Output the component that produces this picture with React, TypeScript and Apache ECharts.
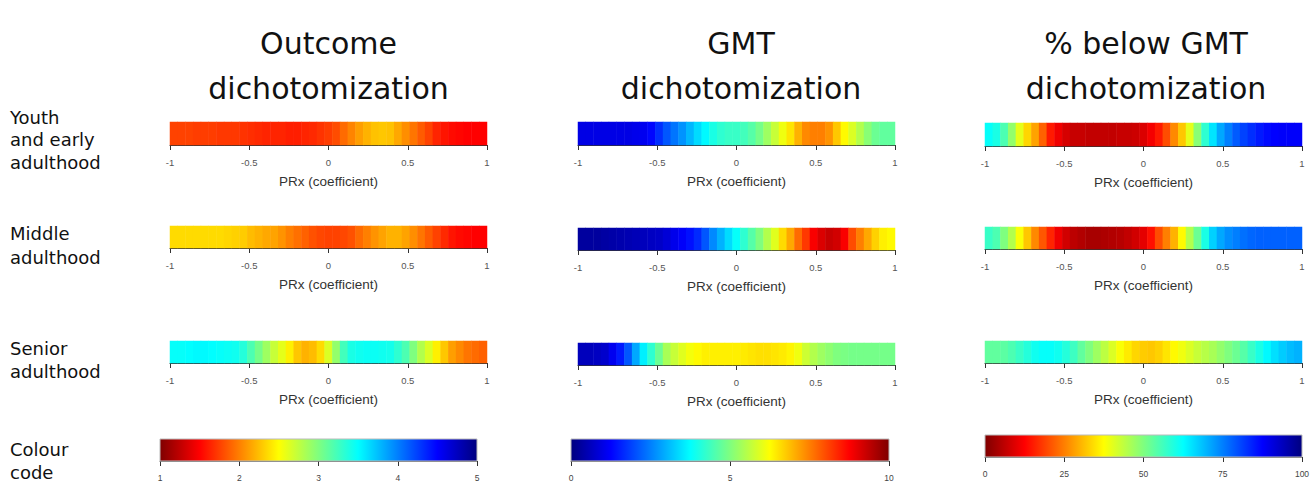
import React, { useEffect, useRef } from "react";
import * as echarts from "echarts";

// ---------- data ----------
const PRX = [-1, -0.95, -0.9, -0.85, -0.8, -0.75, -0.7, -0.65, -0.6, -0.55, -0.5, -0.45, -0.4, -0.35, -0.3, -0.25, -0.2, -0.15, -0.1, -0.05, 0, 0.05, 0.1, 0.15, 0.2, 0.25, 0.3, 0.35, 0.4, 0.45, 0.5, 0.55, 0.6, 0.65, 0.7, 0.75, 0.8, 0.85, 0.9, 0.95, 1];

const COLUMN_TITLES = ["Outcome\ndichotomization", "GMT\ndichotomization", "% below GMT\ndichotomization"];
const ROW_LABELS = ["Youth\nand early\nadulthood", "Middle\nadulthood", "Senior\nadulthood", "Colour\ncode"];
const AXIS_NAME = "PRx (coefficient)";

// Outcome dichotomization (colour code 1..5)
const outcomeYouth = [1.76, 1.76, 1.76, 1.74, 1.74, 1.74, 1.72, 1.72, 1.72, 1.70, 1.68, 1.66, 1.64, 1.64, 1.64, 1.62, 1.62, 1.64, 1.66, 1.70, 1.74, 1.80, 1.92, 2.02, 2.12, 2.20, 2.26, 2.28, 2.26, 2.16, 2.06, 1.96, 1.86, 1.76, 1.64, 1.58, 1.54, 1.52, 1.50, 1.50, 1.50];
const outcomeMiddle = [2.36, 2.36, 2.36, 2.36, 2.36, 2.36, 2.36, 2.34, 2.32, 2.30, 2.24, 2.20, 2.16, 2.14, 2.08, 2.00, 1.94, 1.88, 1.82, 1.78, 1.76, 1.76, 1.78, 1.82, 1.92, 2.00, 2.08, 2.14, 2.20, 2.20, 2.14, 2.06, 1.96, 1.86, 1.76, 1.66, 1.58, 1.54, 1.52, 1.50, 1.50];
const outcomeSenior = [3.48, 3.48, 3.50, 3.52, 3.52, 3.50, 3.48, 3.46, 3.44, 3.36, 3.20, 3.04, 2.88, 2.72, 2.60, 2.44, 2.28, 2.20, 2.24, 2.36, 2.64, 2.92, 3.24, 3.40, 3.44, 3.46, 3.46, 3.44, 3.42, 3.32, 3.20, 3.00, 2.80, 2.64, 2.44, 2.28, 2.12, 2.04, 1.96, 1.92, 1.88];

// GMT dichotomization (colour code 0..10)
const gmtYouth = [1.0, 1.0, 1.0, 1.0, 1.0, 1.0, 1.0, 1.05, 1.1, 1.3, 1.7, 2.1, 2.4, 2.7, 3.05, 3.4, 3.7, 4.0, 4.2, 4.3, 4.3, 4.4, 4.6, 4.9, 5.3, 5.7, 6.1, 6.5, 7.0, 7.4, 7.5, 7.5, 7.3, 6.8, 6.3, 5.9, 5.5, 5.1, 4.8, 4.7, 4.7];
const gmtMiddle = [0.3, 0.3, 0.3, 0.35, 0.4, 0.45, 0.5, 0.55, 0.6, 0.65, 0.7, 0.85, 1.05, 1.2, 1.4, 1.65, 2.1, 2.6, 3.0, 3.4, 3.8, 4.2, 4.6, 5.0, 5.5, 5.95, 6.6, 7.1, 7.7, 8.2, 8.8, 9.1, 9.3, 9.2, 8.8, 8.0, 7.5, 7.1, 6.7, 6.4, 6.3];
const gmtSenior = [0.6, 0.6, 0.65, 0.75, 1.1, 1.5, 2.1, 2.9, 3.6, 4.2, 4.8, 5.4, 5.7, 5.95, 6.15, 6.3, 6.4, 6.4, 6.4, 6.4, 6.4, 6.45, 6.5, 6.55, 6.55, 6.5, 6.45, 6.35, 6.1, 5.75, 5.5, 5.3, 5.15, 5.0, 4.95, 4.9, 4.9, 4.9, 4.9, 4.9, 4.9];

// % below GMT dichotomization (colour code 0..100)
const belowYouth = [62, 60, 55, 48, 40, 33.5, 28.5, 22, 15, 11, 8.5, 7, 7, 6.5, 6.5, 6.5, 6.5, 7, 7, 7.5, 9, 11.5, 15, 20, 26, 32, 40, 49, 58, 65, 71, 75, 78.5, 81, 83, 85, 86.5, 87.5, 88, 88, 88];
const belowMiddle = [57, 55, 50, 45, 38, 32, 26, 21, 16, 11, 8, 6, 5, 4, 4, 4.5, 5, 5.5, 6.5, 8, 10, 14, 20, 25, 30, 37, 45, 52, 60, 67, 71, 73.5, 75, 76.5, 77.5, 78, 78, 78, 78, 78, 78];
const belowSenior = [53, 53, 53.5, 55, 57, 59, 61, 62, 62, 61, 59, 56.5, 53, 50, 47, 44, 41, 38, 35.5, 33.5, 32.5, 32, 33, 35, 37, 39, 41, 43, 44.5, 46, 48, 50, 52, 54, 57, 60, 63, 65.5, 67.5, 69, 70];

// colour code scales
const CODE_MIN = [1, 0, 0];
const CODE_MAX = [5, 10, 100];
const CODE_STEP = [1, 5, 25];

// jet colour map
const JET = ["#00007F", "#0000FF", "#007FFF", "#00FFFF", "#7FFF7F", "#FFFF00", "#FF7F00", "#FF0000", "#7F0000"];
const JET_REVERSED = [...JET].reverse();
const COLUMN_COLORS = [JET_REVERSED, JET, JET_REVERSED];

const ROW_SERIES = [
  [outcomeYouth, gmtYouth, belowYouth],
  [outcomeMiddle, gmtMiddle, belowMiddle],
  [outcomeSenior, gmtSenior, belowSenior],
];

// ---------- layout ----------
const COL_LEFT = [170, 578, 985];
const STRIP_W = 317;
const STRIP_TOP = [
  [122, 122, 123],
  [226, 228, 227],
  [341, 343, 341],
];
const STRIP_H = [23, 22, 22];
const CODE_LEFT = [160, 571, 985];
const CODE_W = [317, 318, 317];
const CODE_TOP = [439, 439, 435];
const CODE_H = 22;
const TITLE_X = [328.5, 741, 1146];
const ROW_LABEL_Y = [139.5, 245, 359.5, 460.5];
const ROW_LABEL_LH = [22.5, 24, 23, 23];

const SANS = "DejaVu Sans";
const ARIAL = "Liberation Sans";

export default function App() {
  const ref = useRef<HTMLDivElement>(null);

  useEffect(() => {
    if (!ref.current) return;
    const chart = echarts.init(ref.current, null, { renderer: "svg" });

    const grids: any[] = [];
    const xAxes: any[] = [];
    const yAxes: any[] = [];
    const series: any[] = [];

    const valueAxisStyle = {
      axisLine: { show: true, lineStyle: { color: "#333", width: 1 } },
      axisTick: { show: true, length: 5, lineStyle: { color: "#333" } },
      splitLine: { show: false },
    };

    ROW_SERIES.forEach((rowArrays, r) => {
      rowArrays.forEach((values, c) => {
        const gi = grids.length;
        grids.push({
          left: COL_LEFT[c],
          top: STRIP_TOP[r][c],
          width: STRIP_W,
          height: STRIP_H[r],
          containLabel: false,
          outerBoundsMode: "none",
        });
        const catIdx = xAxes.length;
        xAxes.push({ type: "category", gridIndex: gi, data: PRX, show: false, position: "top" });
        xAxes.push({
          type: "value",
          gridIndex: gi,
          min: -1,
          max: 1,
          interval: 0.5,
          position: "bottom",
          ...valueAxisStyle,
          axisLabel: { fontSize: 9.5, color: "#555", fontFamily: ARIAL, margin: 12 },
          name: AXIS_NAME,
          nameLocation: "middle",
          nameGap: 29,
          nameTextStyle: { fontSize: 13.5, color: "#333", fontFamily: ARIAL },
        });
        yAxes.push({ type: "category", gridIndex: gi, data: ["PRx"], show: false });
        series.push({
          type: "heatmap",
          xAxisIndex: catIdx,
          yAxisIndex: gi,
          data: values.map((v, i) => [i, 0, v]),
          itemStyle: { borderWidth: 0 },
          emphasis: { disabled: true },
          silent: true,
        });
      });
    });

    // colour code axes
    [0, 1, 2].forEach((c) => {
      const gi = grids.length;
      grids.push({
        left: CODE_LEFT[c],
        top: CODE_TOP[c],
        width: CODE_W[c],
        height: CODE_H,
        containLabel: false,
        outerBoundsMode: "none",
      });
      xAxes.push({
        type: "value",
        gridIndex: gi,
        min: CODE_MIN[c],
        max: CODE_MAX[c],
        interval: CODE_STEP[c],
        position: "bottom",
        ...valueAxisStyle,
        axisLine: { show: true, lineStyle: { color: "#666", width: 1 } },
        axisLabel: { fontSize: 8.5, color: "#444", fontFamily: ARIAL, margin: 12 },
      });
      yAxes.push({ type: "value", gridIndex: gi, min: 0, max: 1, show: false });
    });

    const visualMaps = [0, 1, 2].map((c) => ({
      type: "continuous",
      min: CODE_MIN[c],
      max: CODE_MAX[c],
      seriesIndex: [c, 3 + c, 6 + c],
      inRange: { color: COLUMN_COLORS[c] },
      show: false,
    }));

    const graphics: any[] = [];
    // colour code bars (legend of the jet colour map)
    [0, 1, 2].forEach((c) => {
      const colors = COLUMN_COLORS[c];
      graphics.push({
        type: "rect",
        silent: true,
        z: 10,
        shape: { x: CODE_LEFT[c], y: CODE_TOP[c], width: CODE_W[c], height: CODE_H },
        style: {
          fill: new echarts.graphic.LinearGradient(
            0,
            0,
            1,
            0,
            colors.map((col, i) => ({ offset: i / (colors.length - 1), color: col }))
          ),
          stroke: "#bbb",
          lineWidth: 1,
        },
      });
    });
    COLUMN_TITLES.forEach((t, c) => {
      graphics.push({
        type: "text",
        x: TITLE_X[c],
        y: 65.5,
        silent: true,
        style: {
          text: t,
          fontSize: 30,
          fontFamily: SANS,
          fill: "#111",
          align: "center",
          verticalAlign: "middle",
          lineHeight: 45,
        },
      });
    });
    ROW_LABELS.forEach((t, r) => {
      graphics.push({
        type: "text",
        x: 10,
        y: ROW_LABEL_Y[r],
        silent: true,
        style: {
          text: t,
          fontSize: 18,
          fontFamily: SANS,
          fill: "#111",
          align: "left",
          verticalAlign: "middle",
          lineHeight: ROW_LABEL_LH[r],
        },
      });
    });

    chart.setOption({
      animation: false,
      backgroundColor: "#ffffff",
      grid: grids,
      xAxis: xAxes,
      yAxis: yAxes,
      visualMap: visualMaps,
      series,
      graphic: graphics,
    });

    return () => chart.dispose();
  }, []);

  return (
    <div
      ref={ref}
      style={{ position: "fixed", left: 0, top: 0, width: 1316, height: 486, background: "#fff" }}
    />
  );
}
